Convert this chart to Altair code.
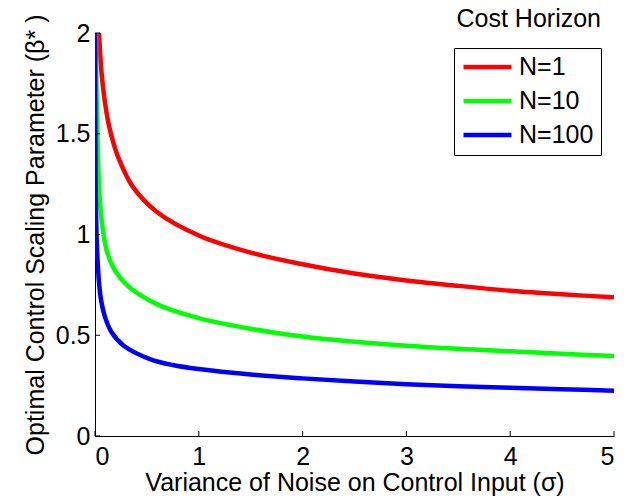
import altair as alt
import pandas as pd

# Values
x_n1 = [0.039, 0.06, 0.08, 0.105, 0.135, 0.18, 0.23, 0.36, 0.6, 1.0, 1.5, 2.0, 2.5, 3.0, 3.5, 4.0, 4.5, 5.0]
y_n1 = [2.0, 1.82, 1.72, 1.625, 1.54, 1.45, 1.375, 1.24, 1.11, 0.995, 0.91, 0.852, 0.806, 0.772, 0.745, 0.721, 0.703, 0.688]

x_n10 = [0.008, 0.015, 0.025, 0.04, 0.06, 0.085, 0.118, 0.2, 0.33, 0.5, 0.65, 1.0, 1.5, 2.0, 2.5, 3.0, 3.5, 4.0, 4.5, 5.0]
y_n10 = [2.0, 1.7, 1.47, 1.23, 1.09, 0.99, 0.91, 0.815, 0.738, 0.68, 0.642, 0.585, 0.532, 0.494, 0.468, 0.448, 0.433, 0.42, 0.408, 0.397]

x_n100 = [0.0008, 0.002, 0.005, 0.01, 0.016, 0.025, 0.039, 0.06, 0.1, 0.16, 0.28, 0.53, 0.75, 1.0, 1.5, 2.0, 2.5, 3.0, 3.5, 4.0, 4.5, 5.0]
y_n100 = [2.0, 1.62, 1.3, 1.1, 0.98, 0.87, 0.76, 0.67, 0.585, 0.515, 0.447, 0.382, 0.352, 0.332, 0.305, 0.286, 0.27, 0.257, 0.247, 0.239, 0.232, 0.225]

series_names = ["N=1", "N=10", "N=100"]
series_colors = ["#ff0000", "#00ff00", "#0000ff"]
legend_title = ["Cost Horizon"]
x_ticks = [0, 1, 2, 3, 4, 5]
y_ticks = [0, 0.5, 1, 1.5, 2]

rows = []
for name, xs, ys in zip(series_names, [x_n1, x_n10, x_n100], [y_n1, y_n10, y_n100]):
    for i, (a, b) in enumerate(zip(xs, ys)):
        rows.append({"series": name, "sigma": a, "beta": b, "order": i})
df = pd.DataFrame(rows)

W, H = 519, 403
FONT = "Liberation Sans"
FS = 25

xscale = alt.Scale(domain=[0, 5], nice=False, zero=False)
yscale = alt.Scale(domain=[0, 2], nice=False, zero=False)

lines = alt.Chart(df).mark_line(strokeWidth=4.5, clip=True, interpolate="catmull-rom").encode(
    x=alt.X("sigma:Q", scale=xscale,
            axis=alt.Axis(values=x_ticks, title="Variance of Noise on Control Input (σ)",
                          ticks=False, grid=False, labelPadding=8, format="~g",
                          titlePadding=1)),
    y=alt.Y("beta:Q", scale=yscale,
            axis=alt.Axis(values=y_ticks, title="Optimal Control Scaling Parameter (β* )",
                          ticks=False, grid=False, labelPadding=5, format="~g",
                          titlePadding=7)),
    color=alt.Color("series:N", scale=alt.Scale(domain=series_names, range=series_colors),
                    legend=alt.Legend(title=None, orient="none", legendX=359, legendY=15,
                                      strokeColor="black", fillColor="white", padding=7,
                                      symbolType="stroke", symbolSize=2304,
                                      symbolStrokeWidth=4.5, labelFontSize=FS,
                                      labelFont=FONT, labelColor="black", labelOffset=5,
                                      clipHeight=24, rowPadding=9)),
    order="order:Q",
)

xt = pd.DataFrame({"t": x_ticks})
yt = pd.DataFrame({"t": y_ticks})
xtick_marks = alt.Chart(xt).mark_rule(color="black", strokeWidth=1).encode(
    x=alt.X("t:Q", scale=xscale), y=alt.value(H), y2=alt.value(H - 5))
ytick_marks = alt.Chart(yt).mark_rule(color="black", strokeWidth=1).encode(
    y=alt.Y("t:Q", scale=yscale), x=alt.value(0), x2=alt.value(5))

legend_head = alt.Chart(pd.DataFrame({"label": legend_title})).mark_text(
    font=FONT, fontSize=FS, color="black", align="right", baseline="alphabetic"
).encode(text="label:N", x=alt.value(W - 13), y=alt.value(-6))

chart = alt.layer(lines, xtick_marks, ytick_marks, legend_head).properties(
    width=W, height=H,
    background="white",
    autosize=alt.AutoSizeParams(type="none"),
    padding={"left": 95, "top": 33, "right": 24, "bottom": 66},
).configure_view(stroke=None).configure_axis(
    domainColor="black", domainWidth=1, labelFont=FONT, titleFont=FONT,
    labelFontSize=FS, titleFontSize=FS, labelColor="black", titleColor="black",
    titleFontWeight="normal"
)

chart.save("out.html", embed_options={"renderer": "svg", "actions": False})
